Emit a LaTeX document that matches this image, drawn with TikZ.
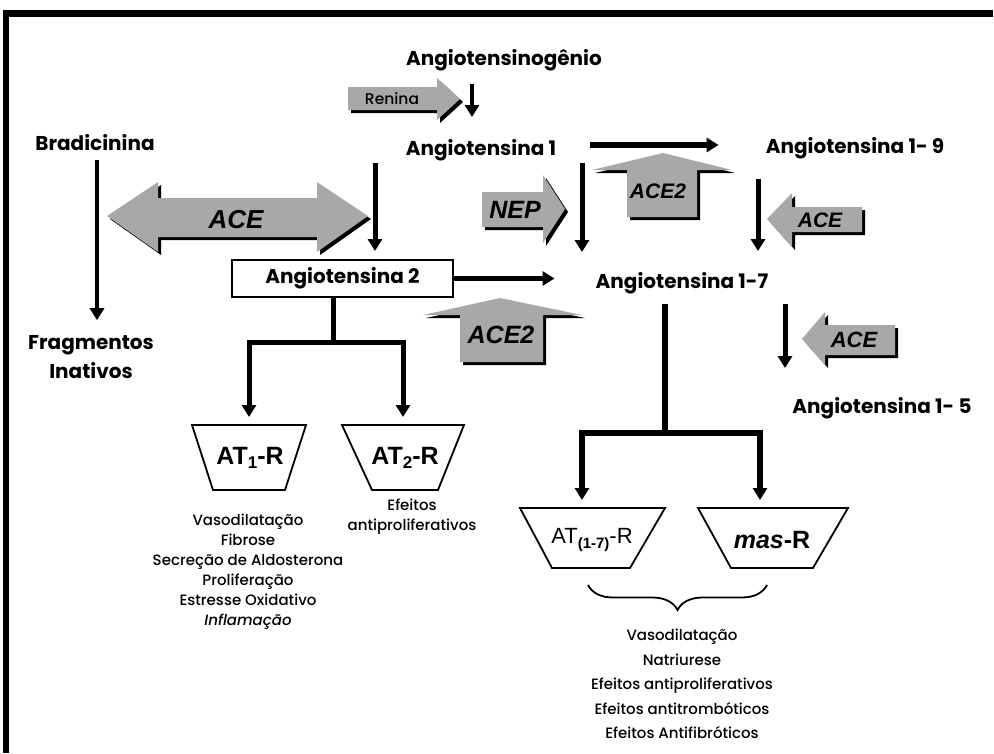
\documentclass[tikz,border=0pt]{standalone}
\usepackage{fontspec}
\setmainfont{Poppins}
\newfontfamily\medfont{Poppins Medium}
\newfontfamily\arialfont{Liberation Sans}
\usetikzlibrary{arrows.meta,decorations.pathreplacing,calc}
\definecolor{arrgray}{RGB}{168,168,168}
\newcommand\blockarrow[1]{\fill[black,shift={(3,3)}] #1; \fill[arrgray] #1;}
\begin{document}
\begin{tikzpicture}[x=1pt,y=-1pt,
  lbl/.style={font=\fontsize{20}{22}\selectfont\bfseries, inner sep=0pt},
  small/.style={font=\medfont\fontsize{15}{20}\selectfont, align=center, inner sep=0pt},
  arr/.style={line width=5pt, -{Triangle[length=12pt,width=14pt]}},
  tree/.style={line width=5pt},
  enz/.style={inner sep=0pt},
  recep/.style={draw, line width=1.8pt},
  rlbl/.style={inner sep=0pt},
]
\useasboundingbox (0,0) rectangle (994,753);
\fill[white] (0,0) rectangle (994,753);
% frame
\fill[black] (3,10) rectangle (993,17);
\fill[black] (3,10) rectangle (9,753);

% column coordinates
\coordinate (c0) at (472,0);
\coordinate (c1) at (582,0);
\coordinate (c2) at (758,0);
\coordinate (c3) at (785,0);
\coordinate (c4) at (97,0);

% labels
\node[lbl] (agen) at (504,60) {Angiotensinogênio};
\node[lbl] (ang1) at (481,150) {Angiotensina 1};
\node[lbl] (ang19) at (855,148) {Angiotensina 1- 9};
\node[lbl] (ang17) at (682,283) {Angiotensina 1-7};
\node[lbl] (ang15) at (882,408) {Angiotensina 1- 5};
\node[lbl] (brad) at (95,143) {Bradicinina};
\node[lbl, align=center, font=\fontsize{20}{29}\selectfont\bfseries] (frag) at (91,357) {Fragmentos\\Inativos};
\node[lbl, draw, line width=2pt, minimum width=221pt, minimum height=37pt] (ang2) at (342.5,278.5) {Angiotensina 2};

% block arrows (enzymes)
\blockarrow{(348,87) -- (437,87) -- (437,78) -- (460,99) -- (437,120) -- (437,110) -- (348,110) -- cycle}
\node[font=\medfont\fontsize{15.5}{16}\selectfont, inner sep=0pt] (renina) at (392,99) {Renina};

\blockarrow{(107,216) -- (158,182) -- (158,198) -- (317,198) -- (317,182) -- (368,216) -- (317,252) -- (317,237) -- (158,237) -- (158,252) -- cycle}
\node[enz, font=\arialfont\bfseries\itshape\fontsize{26}{28}\selectfont] (ace1) at (236,220) {ACE};

\blockarrow{(482,192) -- (543,192) -- (543,175) -- (565,209) -- (543,243) -- (543,227) -- (482,227) -- cycle}
\node[enz, font=\arialfont\bfseries\itshape\fontsize{25}{27}\selectfont] (nep) at (515,210) {NEP};

\blockarrow{(627,217) -- (627,170) -- (592,170) -- (663,153) -- (732,170) -- (697,170) -- (697,217) -- cycle}
\node[enz, font=\arialfont\bfseries\itshape\fontsize{21}{23}\selectfont] (ace2a) at (658,191) {ACE2};

\blockarrow{(767,219) -- (792,193) -- (792,207) -- (862,207) -- (862,232) -- (792,232) -- (792,247) -- cycle}
\node[enz, font=\arialfont\bfseries\itshape\fontsize{21}{23}\selectfont] (ace3) at (820,220) {ACE};

\blockarrow{(460,362) -- (460,315) -- (423,315) -- (500,298) -- (582,315) -- (543,315) -- (543,362) -- cycle}
\node[enz, font=\arialfont\bfseries\itshape\fontsize{25}{27}\selectfont] (ace2b) at (501,335) {ACE2};

\blockarrow{(802,339) -- (825,312) -- (825,325) -- (895,325) -- (895,355) -- (825,355) -- (825,365) -- cycle}
\node[enz, font=\arialfont\bfseries\itshape\fontsize{22}{24}\selectfont] (ace4) at (854,340) {ACE};

% black arrows
\draw[arr, line width=4pt, shorten <=13pt, shorten >=22pt] (agen.south -| c0) -- (ang1.north -| c0);
\draw[arr, line width=6.5pt, shorten <=34pt, shorten >=47pt] ([yshift=5pt]ang1.east) -- ([yshift=5pt]ang1.east -| ang19.west);
\draw[arr, shorten <=2pt, shorten >=8pt] ([xshift=32.5pt]ang2.north |- ang1.south) -- ([xshift=32.5pt]ang2.north);
\draw[arr, shorten <=2pt, shorten >=20pt] (ang1.south -| c1) -- (ang17.north -| c1);
\draw[arr, shorten <=20pt, shorten >=21pt] (ang19.south -| c2) -- (ang17.north -| c2);
\draw[arr, shorten <=10pt, shorten >=29pt] (ang17.south -| c3) -- (ang15.north -| c3);
\draw[arr, line width=4.5pt, shorten <=9pt, shorten >=15pt] (brad.south -| c4) -- (frag.north -| c4);
\draw[arr, line width=4.5pt, shorten >=41pt] (ang2.east) -- (ang2.east -| ang17.west);

% receptors
\coordinate (at1top) at (249,425);
\coordinate (at2top) at (403,425);
\coordinate (at17top) at (582,508);
\coordinate (mastop) at (760,508);
\coordinate (j2) at (333,342);
\coordinate (j17) at (665,433);

\draw[recep] (192,425) -- (306,425) -- (285,490) -- (213,490) -- cycle;
\draw[recep] (342,425) -- (464,425) -- (438,490) -- (372,490) -- cycle;
\draw[recep] (520,508) -- (665,508) -- (630,568) -- (552,568) -- cycle;
\draw[recep] (698,508) -- (848,508) -- (813,568) -- (731,568) -- cycle;

\node[rlbl, font=\arialfont\bfseries\fontsize{25}{26}\selectfont] (at1) at (250,458) {AT\raisebox{-0.35ex}{\fontsize{17}{17}\selectfont 1}-R};
\node[rlbl, font=\arialfont\bfseries\fontsize{25}{26}\selectfont] (at2) at (405,458) {AT\raisebox{-0.35ex}{\fontsize{17}{17}\selectfont 2}-R};
\node[rlbl, font=\arialfont\fontsize{22}{23}\selectfont] (at17) at (592,540) {AT\raisebox{-0.35ex}{\fontsize{15}{15}\selectfont\bfseries (1-7)}-R};
\node[rlbl, font=\arialfont\bfseries\fontsize{25}{26}\selectfont] (mas) at (772,540) {\textit{mas}-R};

% trees
\draw[tree] (ang2.south -| j2) -- (j2);
\draw[arr, shorten >=8pt] (j2) -| (at1top);
\draw[arr, shorten >=8pt] (j2) -| (at2top);
\draw[tree, line width=6pt, shorten <=10pt] (ang17.south -| j17) -- (j17);
\draw[arr, line width=6pt, shorten >=8pt] (j17) -| (at17top);
\draw[arr, line width=6pt, shorten >=8pt] (j17) -| (mastop);

% brace
\draw[line width=1.8pt, decorate, decoration={brace, mirror, amplitude=25pt}] (588,585) -- (767,585);

% effects
\node[small] (eff1) at (248,572) {Vasodilatação\\Fibrose\\Secreção de Aldosterona\\Proliferação\\Estresse Oxidativo\\\textit{Inflamação}};
\node[small] (eff2) at (412,517) {Efeitos\\antiproliferativos};
\node[small, font=\medfont\fontsize{15}{24.5}\selectfont] (eff3) at (682,684) {Vasodilatação\\Natriurese\\Efeitos antiproliferativos\\Efeitos antitrombóticos\\Efeitos Antifibróticos};
\end{tikzpicture}
\end{document}
